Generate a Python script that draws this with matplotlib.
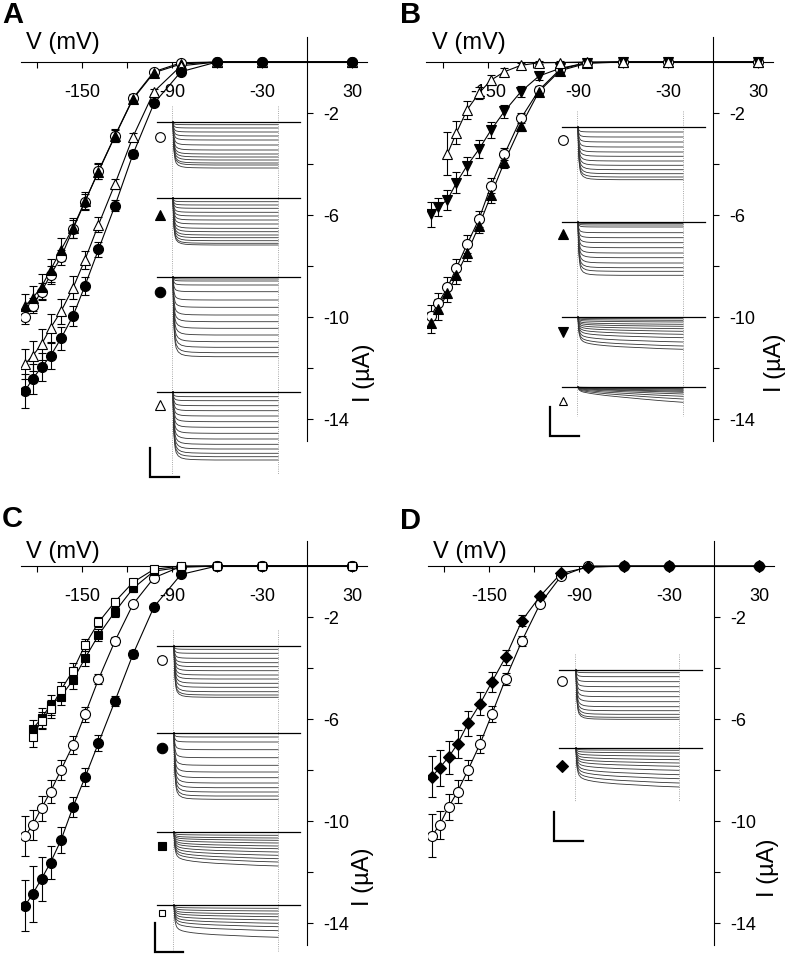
import numpy as np
import matplotlib
matplotlib.use('Agg')
from matplotlib import pyplot as plt

plt.rcParams['font.family'] = ['Liberation Sans', 'DejaVu Sans']
plt.rcParams['axes.unicode_minus'] = False

W, H = 789, 973

# voltage steps (mV)
V = [30, -30, -60, -84, -102, -116, -128, -139, -148, -156, -164, -171, -177, -183, -188]

# ---- panel A, currents (uA) and errors
A_oc = [0, 0, 0, -0.03, -0.38, -1.42, -2.89, -4.27, -5.48, -6.55, -7.66, -8.35, -9.0, -9.56, -9.99]
A_ft = [0, 0, 0, -0.08, -0.42, -1.45, -2.9, -4.3, -5.45, -6.5, -7.37, -8.16, -8.81, -9.27, -9.56]
A_ot = [0, 0, 0, -0.15, -1.16, -2.93, -4.78, -6.38, -7.75, -8.86, -9.78, -10.43, -11.07, -11.53, -11.84]
A_fc = [0, 0, 0, -0.38, -1.62, -3.61, -5.63, -7.35, -8.77, -9.96, -10.84, -11.53, -11.97, -12.43, -12.9]
A_oc_e = [0, 0, 0, 0.05, 0.1, 0.15, 0.25, 0.3, 0.3, 0.35, 0.3, 0.35, 0.35, 0.3, 0.3]
A_ft_e = [0, 0, 0, 0.05, 0.1, 0.15, 0.25, 0.3, 0.35, 0.4, 0.45, 0.45, 0.5, 0.5, 0.45]
A_ot_e = [0, 0, 0, 0.05, 0.1, 0.15, 0.2, 0.3, 0.35, 0.45, 0.5, 0.55, 0.6, 0.6, 0.6]
A_fc_e = [0, 0, 0, 0.05, 0.1, 0.15, 0.2, 0.3, 0.35, 0.4, 0.45, 0.5, 0.55, 0.6, 0.65]

# ---- panel B
B_oc = [0, 0, 0, -0.02, -0.29, -1.1, -2.21, -3.61, -4.85, -6.16, -7.15, -8.07, -8.84, -9.44, -9.96]
B_ft = [0, 0, 0, -0.05, -0.34, -1.16, -2.5, -3.91, -5.22, -6.42, -7.5, -8.35, -9.07, -9.7, -10.22]
B_fd = [0, 0, 0, -0.03, -0.25, -0.55, -1.16, -1.93, -2.67, -3.42, -4.07, -4.73, -5.4, -5.68, -5.98]
B_ot = [0, 0, 0, 0, -0.02, -0.03, -0.13, -0.38, -0.71, -1.22, -1.88, -2.77, -3.6]
B_oc_e = [0, 0, 0, 0.05, 0.1, 0.15, 0.2, 0.25, 0.3, 0.3, 0.35, 0.35, 0.4, 0.4, 0.45]
B_ft_e = [0, 0, 0, 0.05, 0.1, 0.15, 0.2, 0.25, 0.3, 0.3, 0.3, 0.35, 0.35, 0.4, 0.4]
B_fd_e = [0, 0, 0, 0.05, 0.1, 0.15, 0.2, 0.25, 0.3, 0.35, 0.35, 0.4, 0.4, 0.35, 0.5]
B_ot_e = [0, 0, 0, 0, 0.05, 0.05, 0.1, 0.15, 0.2, 0.25, 0.35, 0.45, 0.85]

# ---- panel C
C_os = [0, 0, 0, 0, -0.13, -0.64, -1.4, -2.21, -3.1, -4.1, -4.86, -5.6, -6.06, -6.69]
C_fs = [0, 0, 0, -0.05, -0.2, -0.88, -1.79, -2.71, -3.62, -4.47, -5.12, -5.45, -5.97, -6.4]
C_oc = [0, 0, 0, -0.02, -0.46, -1.5, -2.94, -4.44, -5.82, -7.02, -8.0, -8.85, -9.5, -10.16, -10.59]
C_fc = [0, 0, 0, -0.33, -1.6, -3.46, -5.29, -6.94, -8.29, -9.45, -10.75, -11.63, -12.27, -12.87, -13.32]
C_os_e = [0, 0, 0, 0, 0.05, 0.1, 0.15, 0.2, 0.25, 0.3, 0.3, 0.35, 0.35, 0.4]
C_fs_e = [0, 0, 0, 0, 0.05, 0.15, 0.2, 0.25, 0.3, 0.35, 0.35, 0.4, 0.4, 0.35]
C_oc_e = [0, 0, 0, 0, 0.1, 0.1, 0.15, 0.2, 0.3, 0.35, 0.4, 0.45, 0.5, 0.6, 0.8]
C_fc_e = [0, 0, 0, 0.05, 0.1, 0.15, 0.2, 0.3, 0.35, 0.4, 0.5, 0.65, 0.85, 1.1, 1.0]

# ---- panel D
D_oc = [0, 0, 0, 0, -0.4, -1.49, -2.93, -4.43, -5.8, -6.98, -8.0, -8.85, -9.46, -10.16, -10.58]
D_fd = [0, 0, 0, -0.05, -0.29, -1.19, -2.14, -3.58, -4.54, -5.41, -6.17, -6.98, -7.5, -7.92, -8.26]
D_oc_e = [0, 0, 0, 0, 0.05, 0.1, 0.2, 0.25, 0.3, 0.35, 0.4, 0.45, 0.5, 0.55, 0.85]
D_fd_e = [0, 0, 0, 0, 0.05, 0.1, 0.2, 0.3, 0.4, 0.45, 0.5, 0.55, 0.65, 0.7, 0.8]

# ---- current trace families: steady-state depths (a.u.)
tr_A1 = [2.7, 6, 10, 14, 18, 23, 28, 32, 35, 38, 41, 43, 46]
tr_A2 = [3.7, 7, 10.3, 14.3, 18, 22, 26, 30.3, 33.7, 37, 39.7, 42.7, 45.3, 47]
tr_A3 = [2, 4, 8, 14.7, 23, 30.3, 38, 44.7, 51.3, 58, 64.7, 70.3, 75.7, 79.7]
tr_A4 = [4.7, 8.7, 13.7, 18.7, 24, 29.7, 35.3, 41.3, 47, 52.3, 57, 61.3, 64.7, 68]
tr_B1 = [5, 10, 15, 20, 25, 29.3, 34, 38.3, 42.7, 46.7, 50, 52.7]
tr_B2 = [1.5, 3, 5, 10.7, 15.7, 20.7, 25.7, 31, 35.7, 41, 45.7, 49.3, 53.3]
tr_B3 = [1.7, 3.3, 5, 7.3, 9.3, 11.7, 14.3, 17.3, 20.7, 25, 29, 32.3]
tr_B4 = [1, 1.7, 2.3, 3.3, 4.3, 5.3, 7, 9.3, 12, 15.3]
tr_C1 = [3.3, 7.3, 12.3, 16.7, 20.7, 24.7, 29, 33, 37.3, 41.3, 45.7, 49, 51.3]
tr_C2 = [4, 9, 16.7, 24.7, 32.3, 39, 44.7, 50, 54.7, 59, 63, 66.3]
tr_C3 = [3.3, 6, 8.3, 11, 14, 16.7, 20, 23.3, 26.7, 30, 34]
tr_C4 = [3.3, 6, 9, 11.7, 15, 18.3, 21.7, 25.7, 32.3]
tr_D1 = [2.7, 6.7, 11.7, 16.7, 21.7, 26.7, 31.7, 36.7, 40.7, 44.3, 47.3, 49.3]
tr_D2 = [2.3, 5, 8.3, 11.7, 15, 18.3, 22.3, 26.7, 30.7, 35, 39]

# time course of the traces (fraction of pulse vs fraction of steady state)
t_shape = [0, 0.005, 0.01, 0.02, 0.03, 0.05, 0.08, 0.12, 0.18, 0.27, 0.4, 0.6, 0.8, 1.0]
shapes = {
    'fast': [0, 0.45, 0.65, 0.82, 0.89, 0.94, 0.97, 0.985, 0.993, 0.997, 1, 1, 1, 1],
    'drift': [0, 0.35, 0.5, 0.63, 0.7, 0.76, 0.8, 0.83, 0.86, 0.89, 0.92, 0.95, 0.98, 1.0],
    'slope': [0, 0.12, 0.18, 0.24, 0.28, 0.33, 0.37, 0.42, 0.48, 0.56, 0.65, 0.78, 0.9, 1.0],
}

XLIM = (-191, 40)
YLIM = (-14.85, 1.0)
SX, SY = 1.5, 25.5          # pixels per mV, pixels per uA
XMAJ = [-150, -90, -30, 30]
XLAB = ['-150', '-90', '-30', '30']
XMIN = [-180, -120, -60]
YMAJ = [-2, -6, -10, -14]
YLAB = ['-2', '-6', '-10', '-14']
YMIN = [-4, -8, -12]

fig = plt.figure(figsize=(W / 100, H / 100), dpi=100)


def make_axes(x0, y0):
    left = x0 + XLIM[0] * SX
    right = x0 + XLIM[1] * SX
    top = y0 - YLIM[1] * SY
    bot = y0 - YLIM[0] * SY
    ax = fig.add_axes([left / W, 1 - bot / H, (right - left) / W, (bot - top) / H])
    ax.set_xlim(XLIM)
    ax.set_ylim(YLIM)
    ax.patch.set_visible(False)
    ax.spines['top'].set_visible(False)
    ax.spines['left'].set_visible(False)
    ax.spines['right'].set_position(('data', 0))
    ax.spines['bottom'].set_position(('data', 0))
    for s in ('right', 'bottom'):
        ax.spines[s].set_linewidth(0.8)
    ax.yaxis.set_ticks_position('right')
    ax.xaxis.set_ticks_position('bottom')
    ax.set_xticks(XMAJ)
    ax.set_xticklabels(XLAB)
    ax.set_xticks(XMIN, minor=True)
    ax.set_yticks(YMAJ)
    ax.set_yticklabels(YLAB)
    ax.set_yticks(YMIN, minor=True)
    ax.tick_params(axis='x', which='both', direction='out', length=4, width=0.8,
                   pad=12, labelsize=13)
    ax.tick_params(axis='y', which='both', direction='out', length=4, width=0.8,
                   pad=8, labelsize=13)
    return ax


def draw_series(ax, I, err, marker, filled, ms):
    n = len(I)
    ax.plot(V[:n], I, '-', color='k', lw=0.8, zorder=2)
    ax.errorbar(V[:n], I, yerr=err, fmt=marker, ms=ms,
                mfc='k' if filled else 'w', mec='k', mew=0.8,
                ecolor='k', elinewidth=0.8, capsize=3, capthick=0.8, zorder=3)


panels = [
    dict(letter='A', origin=(307, 62), letter_pos=(2, 15), vlab_dy=0.75, ilab=(57, 311),
         series=[(A_oc, A_oc_e, 'o', False, 7.2), (A_ft, A_ft_e, '^', True, 7.5),
                 (A_ot, A_ot_e, '^', False, 7.5), (A_fc, A_fc_e, 'o', True, 7.2)]),
    dict(letter='B', origin=(713, 62), letter_pos=(400, 15), vlab_dy=0.75, ilab=(62, 301),
         series=[(B_oc, B_oc_e, 'o', False, 7.2), (B_ft, B_ft_e, '^', True, 7.5),
                 (B_fd, B_fd_e, 'v', True, 7.5), (B_ot, B_ot_e, '^', False, 7.5)]),
    dict(letter='C', origin=(307, 566), letter_pos=(2, 519), vlab_dy=0.55, ilab=(56, 311),
         series=[(C_oc, C_oc_e, 'o', False, 7.2), (C_fc, C_fc_e, 'o', True, 7.2),
                 (C_fs, C_fs_e, 's', True, 6.3), (C_os, C_os_e, 's', False, 6.3)]),
    dict(letter='D', origin=(714, 566), letter_pos=(400, 521), vlab_dy=0.55, ilab=(54, 302),
         series=[(D_oc, D_oc_e, 'o', False, 7.2), (D_fd, D_fd_e, 'D', True, 6.0)]),
]

for p in panels:
    x0, y0 = p['origin']
    ax = make_axes(x0, y0)
    for I, e, m, f, ms in p['series']:
        draw_series(ax, I, e, m, f, ms)
    ax.text(-163, p['vlab_dy'], 'V (mV)', fontsize=17, ha='center', va='center')
    dx, dy = p['ilab']
    ax.text(dx / SX, -dy / SY, 'I (\u00b5A)', fontsize=17, rotation=90,
            ha='center', va='center')
    fig.text(p['letter_pos'][0] / W, 1 - p['letter_pos'][1] / H, p['letter'],
             fontsize=21, fontweight='bold', ha='left', va='center')

# overlay in pixel units for the current-trace insets and scale bars
ov = fig.add_axes([0, 0, 1, 1])
ov.set_xlim(0, W)
ov.set_ylim(H, 0)
ov.axis('off')
ov.patch.set_visible(False)

# (x_start, x_end, base_left, base_right, marker_x, scale bar (x, top, bottom, right))
inset_layout = {
    'A': (173, 278, 157, 300, 160, (150, 448, 477, 179)),
    'B': (578, 683, 562, 705, 563, (550, 407, 436, 579)),
    'C': (174, 278, 157, 300, 162, (155, 923, 952, 183)),
    'D': (576, 679, 559, 702, 562, (554, 812, 841, 583)),
}
# (baseline y, marker y, marker, filled, marker size, depths, shape)
inset_traces = {
    'A': [(122, 137, 'o', False, 7.0, tr_A1, 'fast'), (198, 215, '^', True, 7.0, tr_A2, 'fast'),
          (277, 292, 'o', True, 7.5, tr_A3, 'fast'), (392, 405, '^', False, 6.5, tr_A4, 'fast')],
    'B': [(127, 140, 'o', False, 7.0, tr_B1, 'fast'), (222, 234, '^', True, 7.0, tr_B2, 'fast'),
          (317, 332, 'v', True, 7.0, tr_B3, 'drift'), (387, 401, '^', False, 6.0, tr_B4, 'slope')],
    'C': [(646, 660, 'o', False, 7.0, tr_C1, 'fast'), (733, 748, 'o', True, 7.5, tr_C2, 'fast'),
          (832, 846, 's', True, 6.3, tr_C3, 'drift'), (905, 913, 's', False, 5.0, tr_C4, 'drift')],
    'D': [(670, 681, 'o', False, 7.0, tr_D1, 'fast'), (748, 766, 'D', True, 6.0, tr_D2, 'drift')],
}

ts = np.array(t_shape)
for key, (xs, xe, bl, br, mx, sb) in inset_layout.items():
    fam = inset_traces[key]
    top = fam[0][0] - 16
    bot = fam[-1][0] + max(fam[-1][5]) + 14
    for xv in (xs - 1, xe):
        ov.plot([xv, xv], [top, bot], ':', color='0.55', lw=0.6)
    for base, my, m, f, ms, depths, shp in fam:
        frac = np.array(shapes[shp])
        for d in depths:
            ov.plot(xs + ts * (xe - xs), base + d * frac, '-', color='0.2', lw=0.6)
        ov.plot([bl, br], [base, base], '-', color='k', lw=0.9)
        ov.plot([mx], [my], marker=m, ms=ms, mfc='k' if f else 'w', mec='k', mew=0.8)
    sx, st, sbot, sr = sb
    ov.plot([sx, sx, sr], [st, sbot, sbot], '-', color='k', lw=1.6, solid_joinstyle='miter')

fig.savefig('out.png', dpi=100, facecolor='white')
